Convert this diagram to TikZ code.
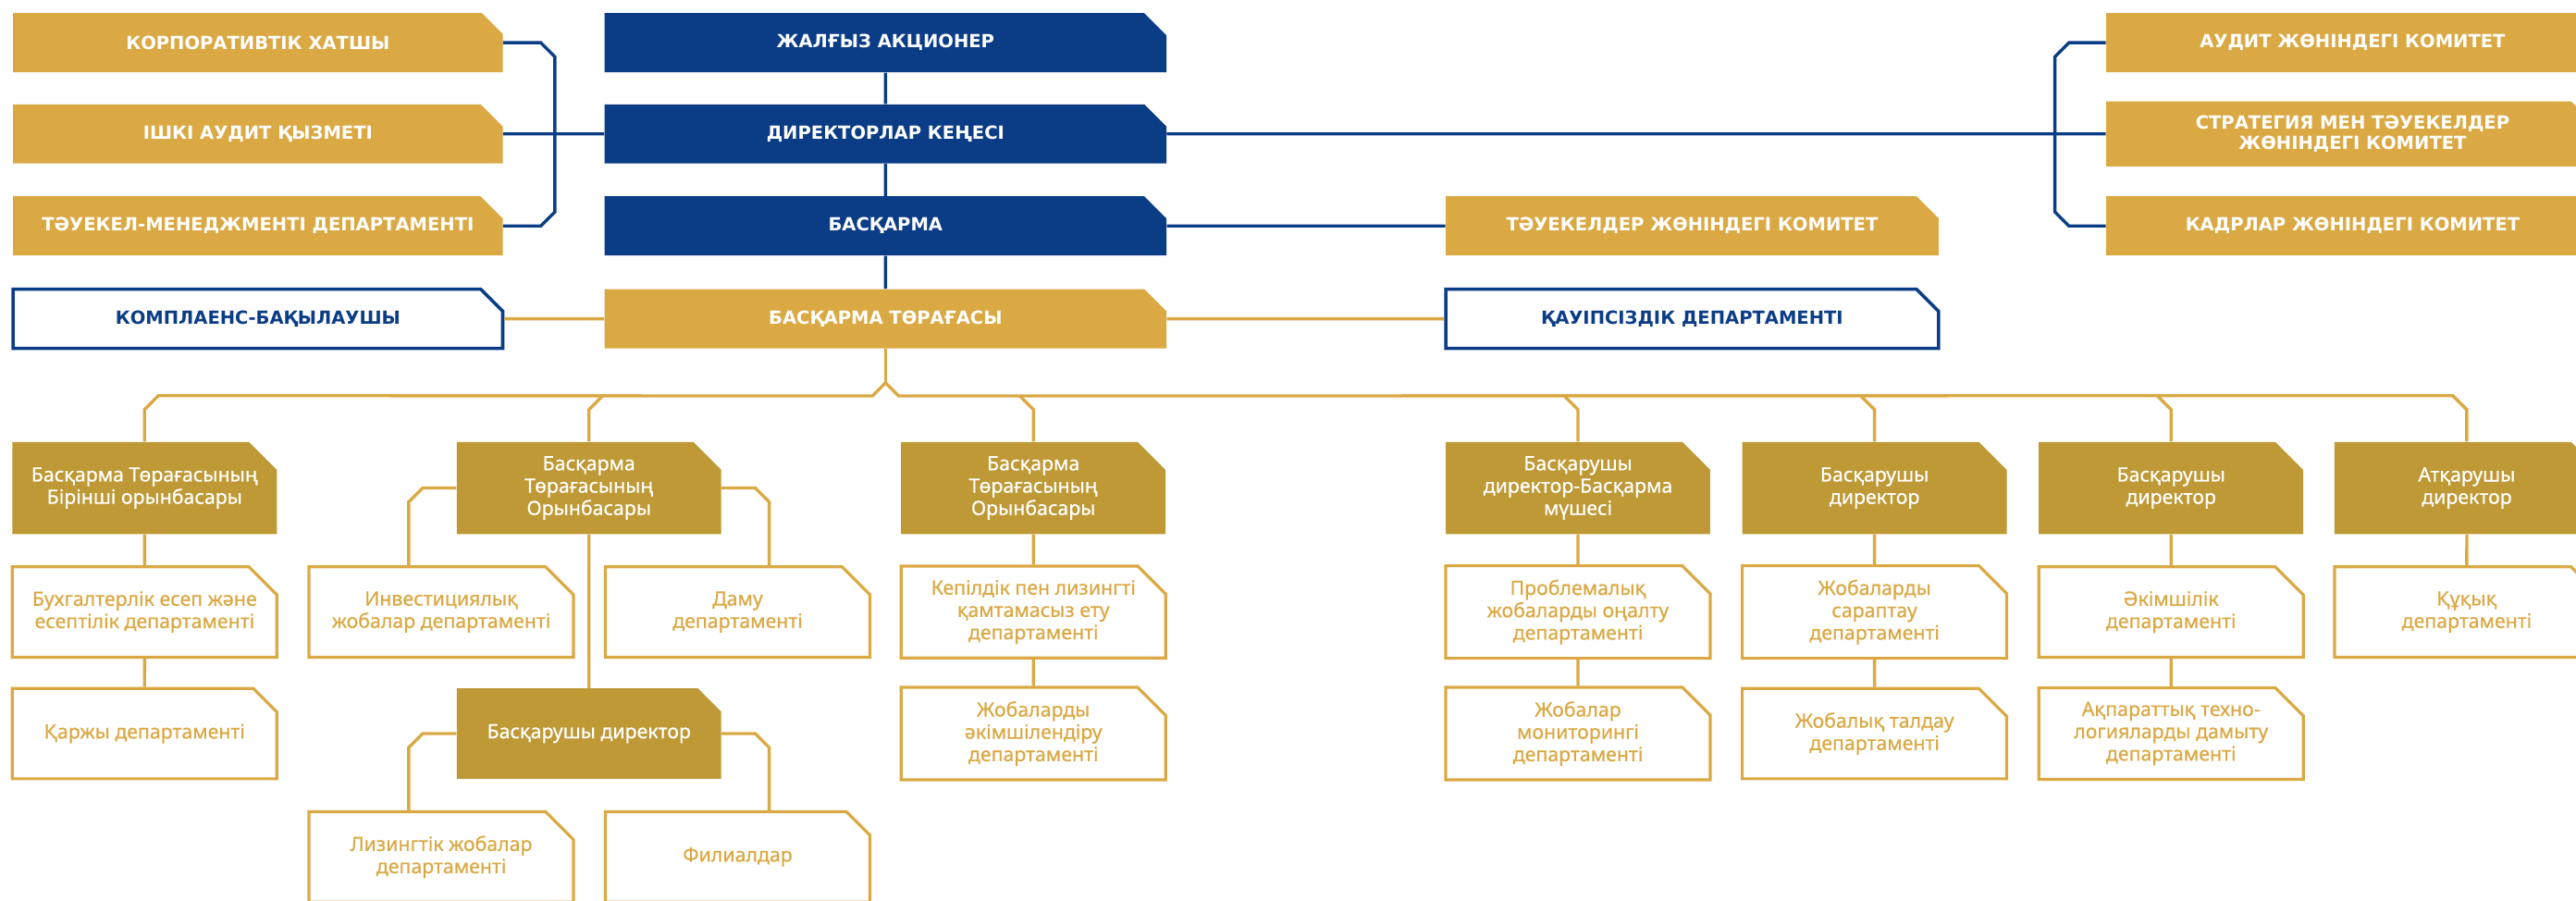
\documentclass[tikz,border=0pt]{standalone}
\usepackage{fontspec}
\setmainfont{Noto Sans}
\newfontfamily\headfont{DejaVu Sans}
\newfontfamily\deptfont{Noto Sans}[FakeBold=0.6]
\usetikzlibrary{shapes.misc}

\definecolor{navy}{RGB}{11,61,135}
\definecolor{gold}{RGB}{219,169,68}
\definecolor{olive}{RGB}{190,153,53}

\begin{document}
\begin{tikzpicture}[x=1pt,y=-1pt,
    box/.style={chamfered rectangle,chamfered rectangle corners=north east,
        chamfered rectangle xsep=8.5pt,chamfered rectangle ysep=8.5pt,inner sep=0pt,align=center},
    topbox/.style={box,minimum width=298pt,minimum height=36pt,text=white,
        font=\headfont\bfseries\fontsize{11}{12.6}\selectfont},
    navybox/.style={topbox,fill=navy,minimum width=342pt},
    goldbox/.style={topbox,fill=gold},
    framebox/.style={topbox,fill=white,draw=navy,line width=2pt,text=navy},
    chief/.style={box,fill=olive,minimum width=161pt,minimum height=56pt,text=white,
        font=\deptfont\fontsize{12}{13.6}\selectfont},
    dept/.style={box,fill=white,draw=gold,line width=1.8pt,minimum width=161pt,minimum height=55pt,
        text=gold,font=\deptfont\fontsize{12}{13.6}\selectfont},
    navyline/.style={navy,line width=1.9pt},
    goldline/.style={gold,line width=1.9pt}]
    \useasboundingbox (0,0) rectangle (1568,548);
    \clip (0,0) rectangle (1568,548);
    \fill[white] (0,0) rectangle (1568,548);
    % left column ==========================================
    \node[goldbox]  (secretary)  at (157,26)    {КОРПОРАТИВТІК ХАТШЫ};
    \node[goldbox]  (audit)      at (157,81.5)  {ІШКІ АУДИТ ҚЫЗМЕТІ};
    \node[goldbox]  (riskdep)    at (157,137.5) {ТӘУЕКЕЛ-МЕНЕДЖМЕНТІ ДЕПАРТАМЕНТІ};
    \node[framebox] (compliance) at (157,194)   {КОМПЛАЕНС-БАҚЫЛАУШЫ};
    % centre column ========================================
    \node[navybox]  (shareholder) at (539,26)    {ЖАЛҒЫЗ АКЦИОНЕР};
    \node[navybox]  (directors)   at (539,81.5)  {ДИРЕКТОРЛАР КЕҢЕСІ};
    \node[navybox]  (board)       at (539,137.5) {БАСҚАРМА};
    \node[goldbox,minimum width=342pt] (chair) at (539,194) {БАСҚАРМА ТӨРАҒАСЫ};
    % right side ===========================================
    \node[goldbox,minimum width=300pt]  (riskcom)  at (1030,137.5) {ТӘУЕКЕЛДЕР ЖӨНІНДЕГІ КОМИТЕТ};
    \node[framebox,minimum width=300pt] (security) at (1030,194)   {ҚАУІПСІЗДІК ДЕПАРТАМЕНТІ};
    \node[goldbox,minimum width=300pt]  (auditcom) at (1432,26)    {АУДИТ ЖӨНІНДЕГІ КОМИТЕТ};
    \node[goldbox,minimum width=300pt]  (strategy) at (1432,81.5)  {СТРАТЕГИЯ МЕН ТӘУЕКЕЛДЕР\\ЖӨНІНДЕГІ КОМИТЕТ};
    \node[goldbox,minimum width=300pt]  (hrcom)    at (1432,137.5) {КАДРЛАР ЖӨНІНДЕГІ КОМИТЕТ};
    % deputies and directors ===============================
    \node[chief] (dep1) at (88,297)     {Басқарма Төрағасының\\Бірінші орынбасары};
    \node[chief] (dep2) at (358.5,297)  {Басқарма\\Төрағасының\\Орынбасары};
    \node[chief] (dep3) at (629,297)    {Басқарма\\Төрағасының\\Орынбасары};
    \node[chief] (md1)  at (960.5,297)  {Басқарушы\\директор-Басқарма\\мүшесі};
    \node[chief] (md2)  at (1141,297)   {Басқарушы\\директор};
    \node[chief] (md3)  at (1321.5,297) {Басқарушы\\директор};
    \node[chief] (exec) at (1501.5,297) {Атқарушы\\директор};
    \node[chief,minimum height=55pt] (md0) at (358.5,446.5) {Басқарушы директор};
    % departments ==========================================
    \node[dept] (accounting) at (88,372.5)     {Бухгалтерлік есеп және\\есептілік департаменті};
    \node[dept] (finance)    at (88,446.5)     {Қаржы департаменті};
    \node[dept] (invest)     at (268.6,372.5)  {Инвестициялық\\жобалар департаменті};
    \node[dept] (develop)    at (449,372.5)    {Даму\\департаменті};
    \node[dept] (leasing)    at (268.6,521.5)  {Лизингтік жобалар\\департаменті};
    \node[dept] (branches)   at (449,521.5)    {Филиалдар};
    \node[dept] (guarantee)  at (629,372.5)    {Кепілдік пен лизингті\\қамтамасыз ету\\департаменті};
    \node[dept] (projadmin)  at (629,446.5)    {Жобаларды\\әкімшілендіру\\департаменті};
    \node[dept] (recovery)   at (960.5,372.5)  {Проблемалық\\жобаларды оңалту\\департаменті};
    \node[dept] (monitoring) at (960.5,446.5)  {Жобалар\\мониторингі\\департаменті};
    \node[dept] (expertise)  at (1141,372.5)   {Жобаларды\\сараптау\\департаменті};
    \node[dept] (analysis)   at (1141,446.5)   {Жобалық талдау\\департаменті};
    \node[dept] (admin)      at (1321.5,372.5) {Әкімшілік\\департаменті};
    \node[dept] (itdep)      at (1321.5,446.5) {Ақпараттық техно-\\логияларды дамыту\\департаменті};
    \node[dept] (legal)      at (1501.5,372.5) {Құқық\\департаменті};
    % governance lines
    \draw[navyline] (shareholder) -- (directors);
    \draw[navyline] (directors) -- (board);
    \draw[navyline] (board) -- (chair);
    \draw[navyline] (audit) -- (directors);
    \draw[navyline] (directors) -- (strategy);
    \draw[navyline] (board) -- (riskcom);
    \draw[navyline] (secretary.east) -- ++(23,0) -- ++(8.5,8.5) -- ([xshift=31.5pt,yshift=8.5pt]riskdep.east) -- ([xshift=23pt]riskdep.east) -- (riskdep.east);
    \draw[navyline] (auditcom.west) -- ++(-22.5,0) -- ++(-8.5,8.5) -- ([xshift=-31pt,yshift=8.5pt]hrcom.west) -- ([xshift=-22.5pt]hrcom.west) -- (hrcom.west);
    \draw[goldline] (compliance) -- (chair);
    \draw[goldline] (chair) -- (security);
    % bus under the chairman
    \coordinate (peak) at (539,233);
    \draw[goldline] (chair) -- (peak);
    \draw[goldline] (peak) -- ++(-8,8) -- ([xshift=8.5pt,yshift=28pt]dep1.north) -- ([yshift=19.5pt]dep1.north) -- (dep1.north);
    \draw[goldline] (peak) -- ++(8,8) -- ([xshift=-8.5pt,yshift=28pt]exec.north) -- ([yshift=19.5pt]exec.north) -- (exec.north);
    \draw[goldline] ([xshift=8.5pt,yshift=28pt]dep2.north) -- ([yshift=19.5pt]dep2.north) -- (dep2.north);
    \draw[goldline] ([xshift=-8.5pt,yshift=28pt]dep3.north) -- ([yshift=19.5pt]dep3.north) -- (dep3.north);
    \draw[goldline] ([xshift=-8.5pt,yshift=28pt]md1.north) -- ([yshift=19.5pt]md1.north) -- (md1.north);
    \draw[goldline] ([xshift=-8.5pt,yshift=28pt]md2.north) -- ([yshift=19.5pt]md2.north) -- (md2.north);
    \draw[goldline] ([xshift=-8.5pt,yshift=28pt]md3.north) -- ([yshift=19.5pt]md3.north) -- (md3.north);
    % down the columns
    \draw[goldline] (dep1) -- (accounting);
    \draw[goldline] (accounting) -- (finance);
    \draw[goldline] (dep2) -- (md0);
    \draw[goldline] (dep2.west) -- ++(-20.5,0) -- ++(-8.5,8.5) coordinate (k1) -- (k1 |- invest.north);
    \draw[goldline] (dep2.east) -- ++(20.5,0) -- ++(8.5,8.5) coordinate (k2) -- (k2 |- develop.north);
    \draw[goldline] (md0.west) -- ++(-20.5,0) -- ++(-8.5,8.5) coordinate (k3) -- (k3 |- leasing.north);
    \draw[goldline] (md0.east) -- ++(20.5,0) -- ++(8.5,8.5) coordinate (k4) -- (k4 |- branches.north);
    \draw[goldline] (dep3) -- (guarantee);
    \draw[goldline] (guarantee) -- (projadmin);
    \draw[goldline] (md1) -- (recovery);
    \draw[goldline] (recovery) -- (monitoring);
    \draw[goldline] (md2) -- (expertise);
    \draw[goldline] (expertise) -- (analysis);
    \draw[goldline] (md3) -- (admin);
    \draw[goldline] (admin) -- (itdep);
    \draw[goldline] (exec) -- (legal);
\end{tikzpicture}
\end{document}
